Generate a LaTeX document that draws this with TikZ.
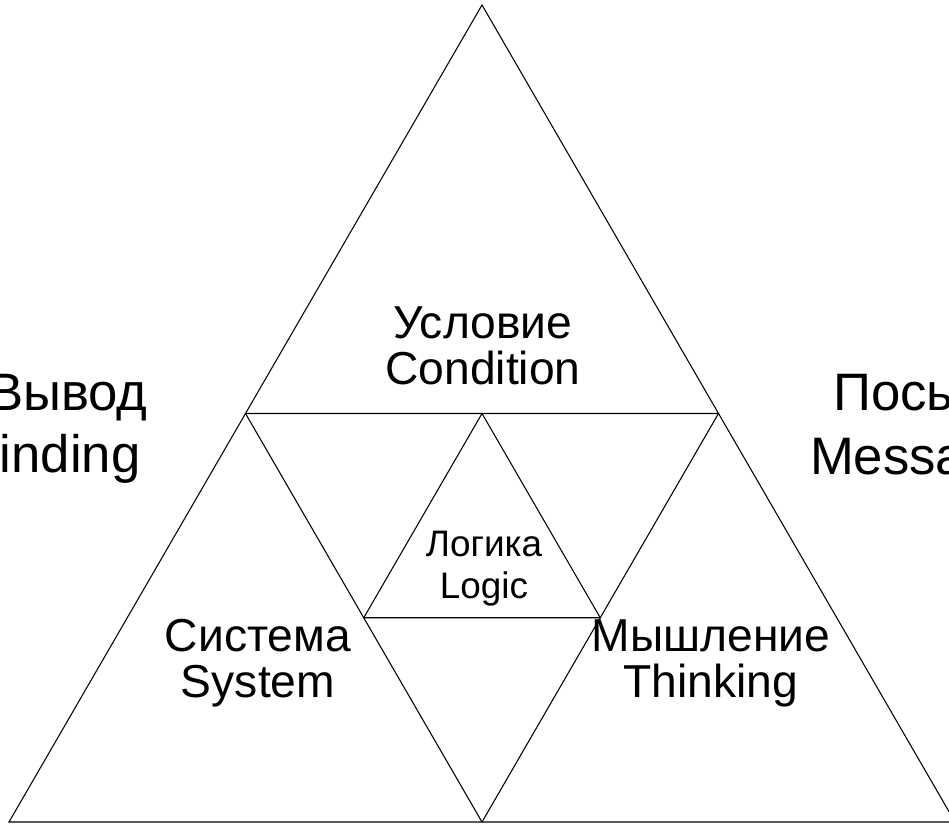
\documentclass[tikz,border=0pt]{standalone}
\usepackage{fontspec}
\setmainfont{Liberation Sans}
\begin{document}
\begin{tikzpicture}[x=0.02cm,y=-0.02cm,line width=0.6pt,
  bigtext/.style={align=center,font=\fontsize{26.3}{26.3}\selectfont},
  sidetext/.style={anchor=base,font=\fontsize{30}{36}\selectfont},
  smalltext/.style={align=center,font=\fontsize{21}{24}\selectfont}]
\useasboundingbox (0,0) rectangle (949,824);
\clip (0,0) rectangle (949,824);

% outer triangle
\coordinate (top) at (482,5);
\coordinate (bl) at (9,822);
\coordinate (br) at (955,822);
% middle (inverted) triangle
\coordinate (ml) at (245.5,413.5);
\coordinate (mr) at (718.5,413.5);
\coordinate (mb) at (482,822);
% inner triangle
\coordinate (it) at (482,413.5);
\coordinate (il) at (363.75,617.75);
\coordinate (ir) at (600.25,617.75);

\draw (top) -- (bl) -- (br) -- cycle;
\draw (ml) -- (mr) -- (mb) -- cycle;
\draw (it) -- (il) -- (ir) -- cycle;

\node[bigtext] (cond) at (483,346) {Условие\\Condition};
\node[bigtext] (sys) at (258,663) {Система\\System};
\node[bigtext] (think) at (711,663) {Мышление\\Thinking};
\node[smalltext] (logic) at (484,569) {Логика\\Logic};

% side labels, cut by the page edge
\node[sidetext] (find1) at (68,410) {Вывод};
\node[sidetext] (find2) at (54,472) {Finding};
\node[sidetext] (msg1) at (941,410) {Посылка};
\node[sidetext] (msg2) at (917,474) {Message};
\end{tikzpicture}
\end{document}
